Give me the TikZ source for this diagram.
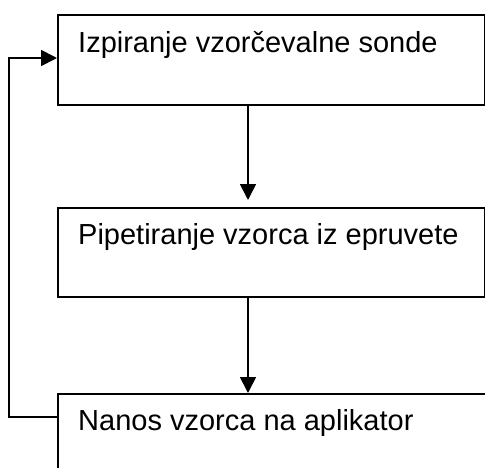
\documentclass[tikz,border=0pt]{standalone}
\usepackage{fontspec}
\setmainfont{Liberation Sans}
\usetikzlibrary{arrows.meta}
\begin{document}
\begin{tikzpicture}[x=1pt,y=-1pt,
  boxline/.style={draw=black,line width=1.8pt},
  conn/.style={draw=black,line width=1.8pt,-{Triangle[length=16pt,width=16pt]}},
  lbl/.style={anchor=base west,inner sep=0pt,font=\fontsize{29pt}{34pt}\selectfont}]
\useasboundingbox (0,0) rectangle (485,467);
\clip (0,0) rectangle (485,467);
\fill[white] (0,0) rectangle (485,467);
\node[boxline,anchor=north west,minimum width=427pt,minimum height=90pt,inner sep=0pt] (b1) at (57,14) {};
\node[boxline,anchor=north west,minimum width=427pt,minimum height=89pt,inner sep=0pt] (b2) at (57,207) {};
\node[boxline,anchor=north west,minimum width=440pt,minimum height=100pt,inner sep=0pt] (b3) at (57,393) {};
\node[lbl] (t1) at (78,52) {Izpiranje vzorčevalne sonde};
\node[lbl] (t2) at (78,244) {Pipetiranje vzorca iz epruvete};
\node[lbl] (t3) at (78,430) {Nanos vzorca na aplikator};
\coordinate (v1) at (248,104);
\coordinate (v1e) at (248,200);
\coordinate (v2) at (248,296);
\coordinate (v2e) at (248,393);
\coordinate (l1) at (57,417);
\coordinate (l2) at (9,417);
\coordinate (l3) at (9,58);
\coordinate (l4) at (57,58);
\draw[conn] (b1.south -| v1) -- (v1e);
\draw[conn] (b2.south -| v2) -- (b3.north -| v2e);
\draw[conn] (l1) -- (l2) -- (l3) -- (b1.west |- l4);
\end{tikzpicture}
\end{document}
